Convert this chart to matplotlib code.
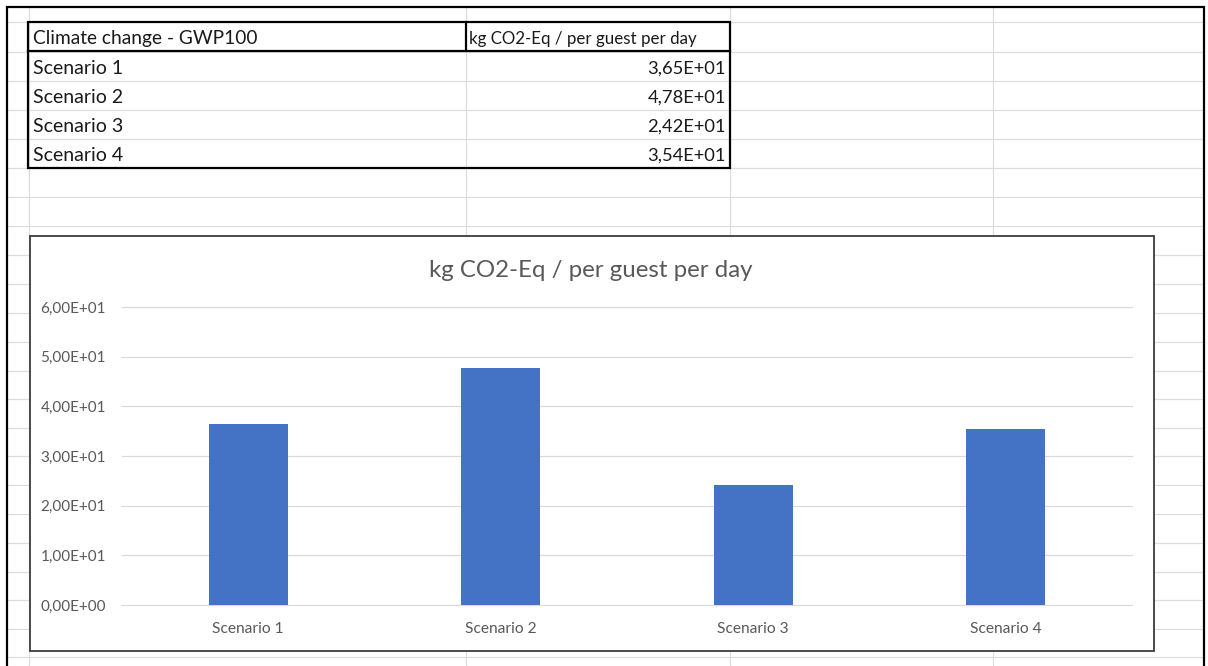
import matplotlib
matplotlib.use("Agg")
import matplotlib.pyplot as plt
from matplotlib.patches import Rectangle
from matplotlib.ticker import MultipleLocator, FuncFormatter

# Data
sheet_title = "Climate change - GWP100"
unit_label = "kg CO2-Eq / per guest per day"
scenarios = ["Scenario 1", "Scenario 2", "Scenario 3", "Scenario 4"]
gwp_values = [36.5, 47.8, 24.2, 35.4]

W, H, DPI = 1208, 666, 100
PX = 72 / DPI  # points per pixel


def excel_sci(v, pos=None):
    """Excel style scientific format with a decimal comma."""
    return f"{v:.2E}".replace(".", ",")


plt.rcParams["font.family"] = ["Lato", "DejaVu Sans"]

fig = plt.figure(figsize=(W / DPI, H / DPI), dpi=DPI)
fig.patch.set_facecolor("white")

# Worksheet layer in pixel coordinates
bg = fig.add_axes([0, 0, 1, 1])
bg.set_xlim(0, W)
bg.set_ylim(H, 0)
bg.axis("off")

grid_c = "#DCDCDC"
col_x = [29, 466, 730, 993]
row_y = [22, 52, 81, 110, 139, 168, 197, 226, 255, 284, 313, 342, 371,
         399, 428, 456, 485, 514, 543, 572, 600, 629, 657]
for x in col_x:
    bg.plot([x, x], [7, H], color=grid_c, lw=1.2 * PX, zorder=1)
for y in row_y:
    bg.plot([7, 1204], [y, y], color=grid_c, lw=1.2 * PX, zorder=1)

# outer frame
bg.plot([7, 7, 1204, 1204], [H, 7, 7, H], color="black", lw=2.2 * PX,
        zorder=3, solid_joinstyle="miter")

# table borders
bg.add_patch(Rectangle((28, 22), 730 - 28, 168 - 22, fill=False,
                       edgecolor="black", lw=2.2 * PX, zorder=3))
bg.plot([28, 730], [51, 51], color="black", lw=2.2 * PX, zorder=3)
bg.plot([466, 466], [22, 51], color="black", lw=2.2 * PX, zorder=3)

txt_c = "#1a1a1a"
bg.text(33, 44, sheet_title, fontsize=13.8, color=txt_c, va="baseline",
        ha="left", zorder=4)
bg.text(469, 44, unit_label, fontsize=12.2, color=txt_c, va="baseline",
        ha="left", zorder=4)
row_bottoms = [81, 110, 139, 168]
for name, val, yb in zip(scenarios, gwp_values, row_bottoms):
    bg.text(33, yb - 7, name, fontsize=14, color=txt_c, va="baseline",
            ha="left", zorder=4)
    bg.text(726, yb - 7, excel_sci(val), fontsize=13.2, color=txt_c,
            va="baseline", ha="right", zorder=4)

# chart area
bg.add_patch(Rectangle((30, 236), 1154 - 30, 651 - 236, facecolor="white",
                       edgecolor="#3c3c3c", lw=1.8 * PX, zorder=5))

# Bar chart
x0, x1 = 122, 1132
y_zero, y_top = 605, 307
ax = fig.add_axes([x0 / W, (H - y_zero) / H, (x1 - x0) / W,
                   (y_zero - y_top) / H])
ax.set_facecolor("none")
ax.bar(range(len(scenarios)), gwp_values, width=0.313, color="#4472C4",
       zorder=3)
ax.set_xlim(-0.5, len(scenarios) - 0.5)
ax.set_ylim(0, 60)
ax.yaxis.set_major_locator(MultipleLocator(10))
ax.yaxis.set_major_formatter(FuncFormatter(excel_sci))
ax.grid(axis="y", color="#D9D9D9", lw=1.2 * PX, zorder=0)
ax.set_axisbelow(True)
for s in ax.spines.values():
    s.set_visible(False)
ax.tick_params(axis="both", length=0, colors="#595959")
ax.tick_params(axis="y", pad=11.5, labelsize=11)
ax.tick_params(axis="x", pad=12.5, labelsize=11.2)
ax.set_xticks(range(len(scenarios)))
ax.set_xticklabels(scenarios)
for line in ax.get_ygridlines():
    line.set_clip_on(False)

fig.text(591 / W, 1 - 270 / H, unit_label, ha="center", va="center",
         fontsize=17.3, color="#595959")

fig.savefig("out.png", dpi=DPI)
